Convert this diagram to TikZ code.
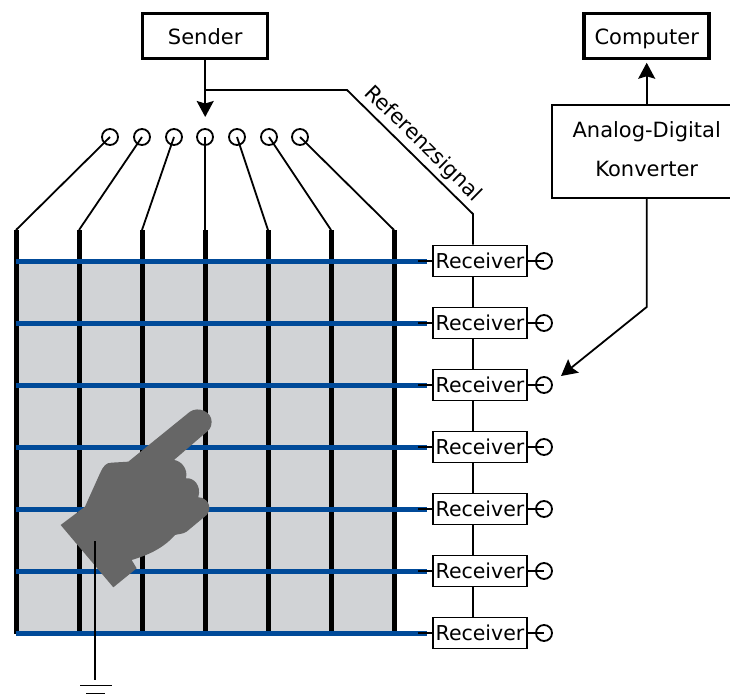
\documentclass[tikz,border=0pt]{standalone}
\usepackage{fontspec}
\setmainfont{DejaVu Sans}
\usetikzlibrary{arrows.meta}
\definecolor{wireblue}{HTML}{004A99}
\definecolor{panelgray}{HTML}{D1D3D6}
\definecolor{handgray}{HTML}{666666}
\tikzset{
  x=1pt,y=-1pt,
  lab/.style={font=\fontsize{21}{39}\selectfont},
  thickbox/.style={draw,line width=3.5pt,minimum width=125pt,minimum height=45pt,inner sep=0pt,lab,text height=16pt,text depth=0pt},
  adcbox/.style={draw,line width=1.8pt,inner sep=0pt,lab},
  recv/.style={draw,line width=1.8pt,fill=white,minimum width=94pt,minimum height=31pt,inner sep=0pt,font=\fontsize{20.5}{24}\selectfont,text height=14pt,text depth=0pt},
  term/.style={circle,draw,line width=1.8pt,minimum size=16pt,inner sep=0pt},
  wire/.style={line width=1.8pt},
  bar/.style={line width=5pt},
  blueline/.style={line width=5pt,wireblue},
  tip/.style={-{Stealth[length=16pt,width=17pt,inset=2.5pt]}},
}
\begin{document}
\begin{tikzpicture}
\useasboundingbox (0,0) rectangle (730,699);
\fill[panelgray] (16,261) rectangle (394,634);

% antennas (top terminals and vertical bars)
\foreach \i/\cx/\bx in {1/110/16,2/142/79,3/174/142,4/205/205,5/237/268,6/269/331,7/300/394}{
  \node[term] (t\i) at (\cx,137) {};
  \coordinate (bt\i) at (\bx,230);
  \coordinate (bb\i) at (\bx,634);
  \draw[wire] (t\i.center) -- (bt\i);
  \draw[bar] (bt\i) -- (bb\i);
}

% receivers
\foreach \i/\y in {1/261,2/323,3/385,4/447,5/509,6/571,7/633}{
  \node[recv] (r\i) at (480,\y) {Receiver};
  \node[term] (o\i) at (544,\y) {};
  \coordinate (bl\i) at (16,\y);
  \coordinate (be\i) at (427,\y);
  \draw[blueline] (bl\i) -- (be\i);
  \draw[wire] (418,\y) -- (r\i.west);
  \draw[wire] (r\i.east) -- (o\i.center);
}
\foreach \a/\b in {1/2,2/3,3/4,4/5,5/6,6/7}{
  \draw[wire] ([xshift=-7pt]r\a.south) -- ([xshift=-7pt]r\b.north);
}

% sender
\node[thickbox] (sender) at (205.2,36) {Sender};
\coordinate (sarrow) at (205.2,117);
\draw[wire,tip] (sender.south) -- (sarrow);
\coordinate (ref0) at (205.2,90);
\coordinate (ref1) at (347,90);
\coordinate (ref2) at (473,214);
\draw[wire] (ref0) -- (ref1) -- (ref2) -- ([xshift=-7pt]r1.north);
\node[lab,rotate=-44.5] (reflab) at (423,144) {Referenzsignal};

% computer and converter (the converter box runs off the right edge)
\node[thickbox] (computer) at (646.7,36) {Computer};
\node[adcbox,minimum width=189.4pt,minimum height=93pt,align=center] (adc) at (646.7,151.5)
  {Analog-Digital\\Konverter\rule[-5pt]{0pt}{5pt}};
\draw[wire,tip,shorten >=2.5pt] (adc.north) -- (computer.south);
\coordinate (k1) at (646.7,307);
\coordinate (k2) at (561,376);
\draw[wire,tip] (adc.south) -- (k1) -- (k2);

% hand
\begin{scope}[shift={(50,390)},x=0.3333pt,y=-0.3333pt]
\fill[handgray] (32,405) -- (105,350) -- (150,250)
  .. controls (160,228) and (168,218) .. (185,218)
  -- (235,215) -- (420,65)
  .. controls (445,48) and (485,65) .. (485,95)
  .. controls (485,115) and (475,122) .. (465,130)
  -- (372,210)
  .. controls (392,212) and (415,235) .. (408,265)
  .. controls (430,262) and (455,285) .. (445,322)
  .. controls (470,322) and (490,350) .. (470,375)
  -- (410,425)
  .. controls (400,432) and (385,432) .. (375,435)
  .. controls (340,475) and (295,495) .. (245,510)
  -- (260,535) -- (190,592) -- cycle;
\end{scope}

% ground
\coordinate (g0) at (95,541);
\coordinate (g1) at (95,680);
\draw[wire] (g0) -- (g1);
\draw[wire] (80,685.5) -- (112,685.5);
\draw[wire] (86,693.5) -- (105,693.5);
\end{tikzpicture}
\end{document}
